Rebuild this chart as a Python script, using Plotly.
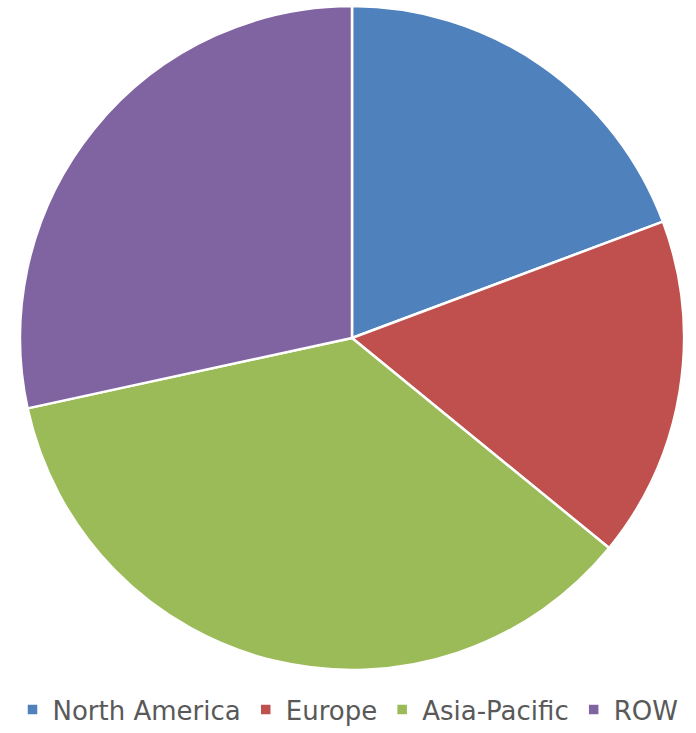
import plotly.graph_objects as go

regions = ["North America", "Europe", "Asia-Pacific", "ROW"]
shares = [19.3, 16.6, 35.7, 28.4]
colors = ["#4F81BD", "#C0504D", "#9BBB59", "#8064A2"]

W, H = 696, 733
cx, cy, r = 352, 338, 332

fig = go.Figure(go.Pie(
    labels=regions,
    values=shares,
    sort=False,
    direction="clockwise",
    rotation=0,
    textinfo="none",
    hoverinfo="label+percent",
    marker=dict(colors=colors, line=dict(color="white", width=2.5)),
    domain=dict(x=[(cx - r) / W, (cx + r) / W], y=[1 - (cy + r) / H, 1 - (cy - r) / H]),
))

fig.update_layout(
    width=W, height=H,
    margin=dict(l=0, r=0, t=0, b=0),
    paper_bgcolor="white",
    showlegend=True,
    legend=dict(
        orientation="h", x=0.5, xanchor="center", y=0.0, yanchor="bottom",
        font=dict(family="DejaVu Sans", size=26, color="#595959"),
        itemwidth=30, tracegroupgap=0,
    ),
)

fig.write_html("out.html", config={"displayModeBar": False},
               post_script="document.body.style.margin='0';")
